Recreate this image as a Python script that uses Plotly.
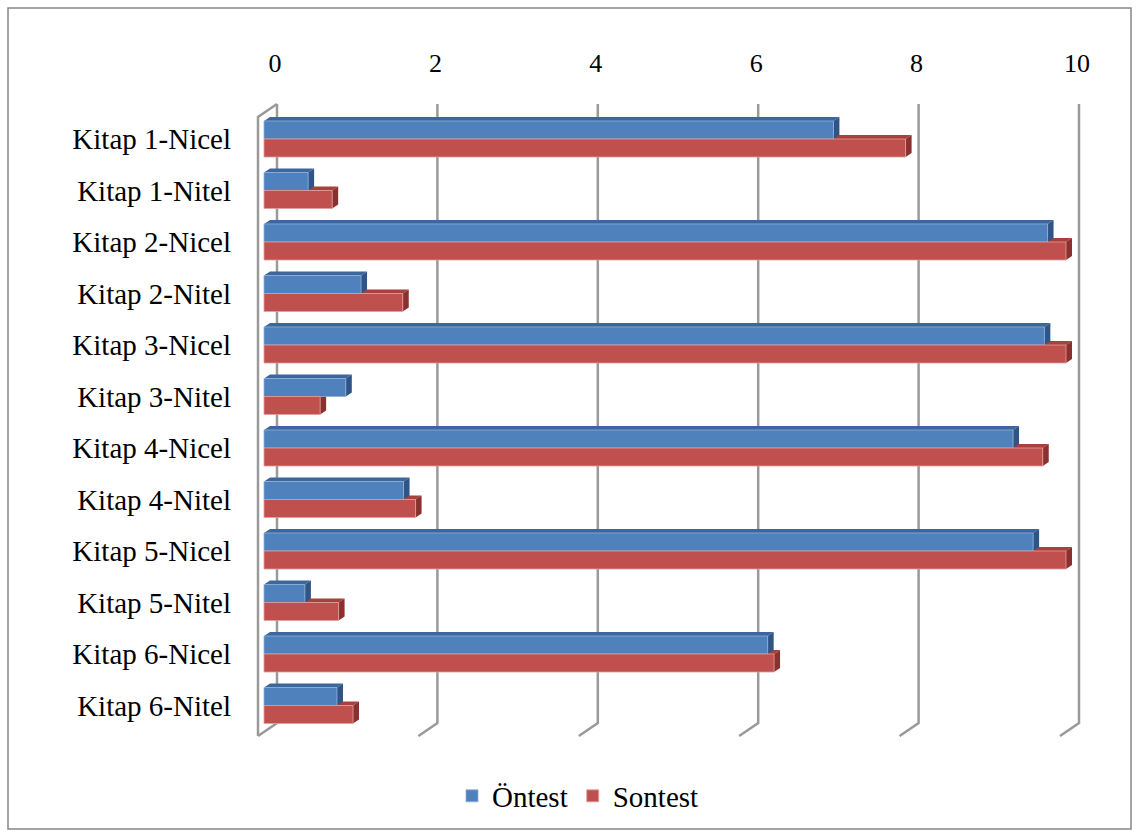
import plotly.graph_objects as go

categories = ["Kitap 1-Nicel", "Kitap 1-Nitel", "Kitap 2-Nicel", "Kitap 2-Nitel",
              "Kitap 3-Nicel", "Kitap 3-Nitel", "Kitap 4-Nicel", "Kitap 4-Nitel",
              "Kitap 5-Nicel", "Kitap 5-Nitel", "Kitap 6-Nicel", "Kitap 6-Nitel"]
ontest = [7.1, 0.55, 9.77, 1.21, 9.73, 1.02, 9.34, 1.74, 9.59, 0.51, 6.28, 0.91]
sontest = [8.0, 0.85, 10.0, 1.73, 10.0, 0.70, 9.71, 1.89, 10.0, 0.93, 6.36, 1.11]
x_ticks = [0, 2, 4, 6, 8, 10]

W, H = 1136, 833
L, R, T, B = 250, 1085, 100, 740
X0PX, XPU = 264.0, 80.2      # pixel of value 0 on bar plane, pixels per unit
Y0PX, YPU = 139.0, 51.5      # pixel of first category centre, pixels per category

def xv(px):
    return (px - X0PX) / XPU

def yv(py):
    return (py - Y0PX) / YPU

ypos = list(range(len(categories)))
BW = 0.35
BLUE, RED = "#4F81BD", "#C0504D"
BLUE_TOP, BLUE_SIDE = "#3d679c", "#2f5486"
RED_TOP, RED_SIDE = "#a8403d", "#8a302e"
FONT = "Liberation Serif"

fig = go.Figure()
fig.add_trace(go.Bar(name="Öntest", y=ypos, x=ontest, orientation="h",
                     width=BW, offset=-BW, marker=dict(color=BLUE, line=dict(width=0.8, color="#8fb0d8"))))
fig.add_trace(go.Bar(name="Sontest", y=ypos, x=sontest, orientation="h",
                     width=BW, offset=0, marker=dict(color=RED, line=dict(width=0.8, color="#e0a09e"))))

shapes = []
dxb = 13 / XPU   # back plane offset
dxf = 6 / XPU    # front plane offset
ytop_back, ybot_back, ybot_front = yv(104), yv(723), yv(736)
gcol = "#9a9a9a"
for t in x_ticks:
    path = (f"M {t+dxb},{ytop_back} L {t+dxb},{ybot_back} L {t-dxf},{ybot_front}")
    shapes.append(dict(type="path", path=path, xref="x", yref="y", layer="below",
                       line=dict(color=gcol, width=2.5)))
# left wall outline
shapes.append(dict(type="path",
                   path=f"M {0+dxb},{ytop_back} L {-dxf},{yv(117)} L {-dxf},{ybot_front}",
                   xref="x", yref="y", layer="below", line=dict(color=gcol, width=2.5)))

# 3D faces of the bars
ddx = 6 / XPU
ddy = 4 / YPU
def faces(vals, offset, top_col, side_col):
    out = []
    for i, v in zip(ypos, vals):
        top = i + offset
        bot = top + BW
        out.append(dict(type="path", xref="x", yref="y", layer="below",
                        path=f"M 0,{top} L {ddx},{top-ddy} L {v+ddx},{top-ddy} L {v},{top} Z",
                        fillcolor=top_col, line=dict(width=0)))
        out.append(dict(type="path", xref="x", yref="y", layer="below",
                        path=f"M {v},{top} L {v+ddx},{top-ddy} L {v+ddx},{bot-ddy} L {v},{bot} Z",
                        fillcolor=side_col, line=dict(width=0)))
    return out

shapes += faces(sontest, 0, RED_TOP, RED_SIDE)
shapes += faces(ontest, -BW, BLUE_TOP, BLUE_SIDE)

# outer frame
pw, ph = R - L, B - T
shapes.append(dict(type="rect", xref="paper", yref="paper",
                   x0=(8 - L) / pw, x1=(1131 - L) / pw,
                   y0=(B - 829) / ph, y1=(B - 8) / ph,
                   line=dict(color="#868686", width=1.5), layer="below"))

fig.update_layout(
    width=W, height=H,
    margin=dict(l=L, r=W - R, t=T, b=H - B),
    paper_bgcolor="white", plot_bgcolor="white",
    barmode="overlay",
    font=dict(family=FONT, size=29, color="black"),
    shapes=shapes,
    showlegend=True,
    legend=dict(orientation="h", x=(578 - L) / pw, xanchor="center",
                y=(B - 796) / ph, yanchor="middle",
                font=dict(family=FONT, size=29), traceorder="normal"),
    xaxis=dict(range=[xv(L), xv(R)], side="top", tickvals=x_ticks,
               ticktext=[str(t) for t in x_ticks], showgrid=False, zeroline=False,
               showline=False, ticks="", ticklabelshift=11, ticklabelstandoff=22,
               tickfont=dict(family=FONT, size=26)),
    yaxis=dict(range=[yv(B), yv(T)], tickvals=ypos, ticktext=categories,
               showgrid=False, zeroline=False, showline=False, ticks="",
               ticklabelstandoff=18, tickfont=dict(family=FONT, size=29)),
)

fig.write_html("out.html")
